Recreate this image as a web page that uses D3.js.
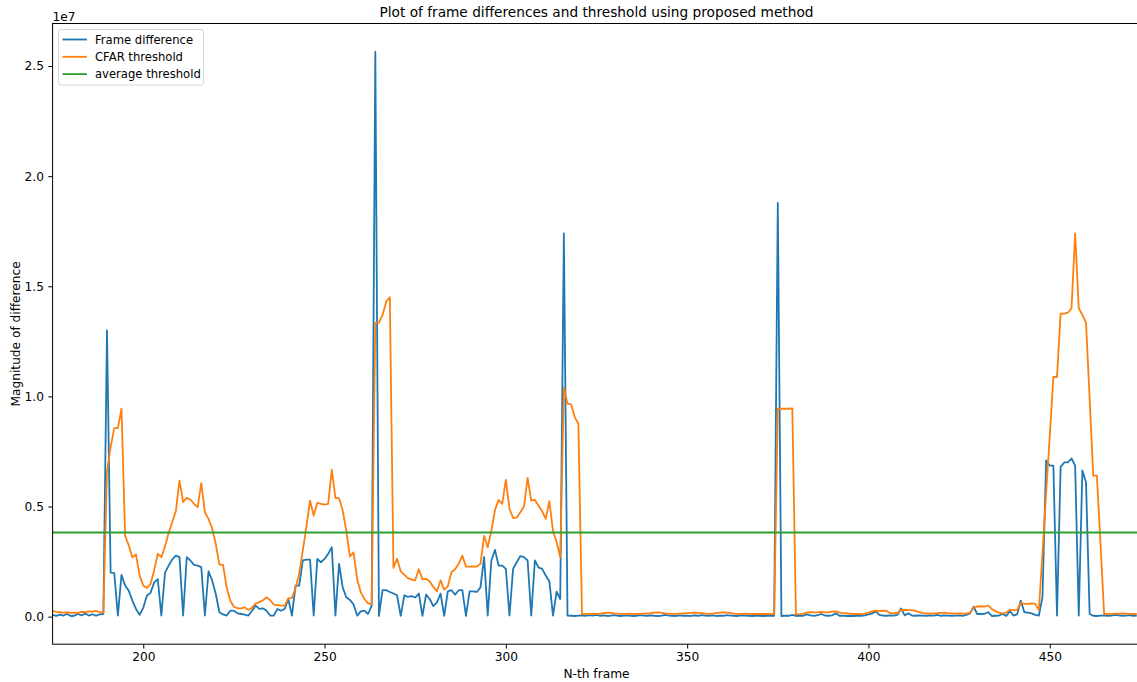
<!DOCTYPE html>
<html>
<head>
<meta charset="utf-8">
<script src="https://cdn.jsdelivr.net/npm/d3@7"></script>
<style>
  body { margin: 0; background: #fff; }
  text { font-family: "DejaVu Sans", sans-serif; fill: #000; }
</style>
</head>
<body>
<svg id="chart" width="1137" height="682"></svg>
<script>
// values are in units of 1e7, as shown on the axis
const firstFrame = 175;

// Frame difference, 10 frames per row starting at 175
const frameDiff = [
  0.008,0.004,0.009,0.005,0.012,0.003,0.004,0.012,0.006,0.014, // 175
  0.005,0.011,0.004,0.010,0.012,1.300,0.200,0.198,0.005,0.190, // 185
  0.141,0.118,0.073,0.035,0.008,0.040,0.095,0.108,0.155,0.170, // 195
  0.005,0.200,0.232,0.260,0.277,0.270,0.005,0.270,0.255,0.235, // 205
  0.232,0.225,0.005,0.206,0.164,0.103,0.020,0.010,0.005,0.027, // 215
  0.027,0.015,0.012,0.009,0.005,0.027,0.050,0.035,0.038,0.027, // 225
  0.005,0.005,0.035,0.027,0.035,0.080,0.005,0.141,0.141,0.255, // 235
  0.259,0.259,0.005,0.262,0.247,0.262,0.285,0.315,0.005,0.240, // 245
  0.133,0.088,0.076,0.055,0.005,0.024,0.027,0.012,0.050,2.565, // 255
  0.003,0.120,0.120,0.112,0.105,0.097,0.004,0.097,0.090,0.093, // 265
  0.087,0.105,0.004,0.100,0.080,0.048,0.065,0.105,0.004,0.115, // 275
  0.120,0.100,0.120,0.120,0.004,0.115,0.115,0.112,0.133,0.270, // 285
  0.005,0.255,0.303,0.232,0.232,0.217,0.005,0.217,0.247,0.275, // 295
  0.270,0.255,0.005,0.255,0.224,0.217,0.187,0.160,0.005,0.114, // 305
  0.080,1.740,0.005,0.004,0.003,0.005,0.006,0.004,0.007,0.005, // 315
  0.008,0.004,0.006,0.003,0.005,0.007,0.004,0.003,0.006,0.005, // 325
  0.003,0.004,0.007,0.005,0.004,0.006,0.004,0.003,0.005,0.008, // 335
  0.005,0.004,0.003,0.006,0.004,0.005,0.003,0.006,0.004,0.007, // 345
  0.005,0.004,0.006,0.003,0.005,0.004,0.007,0.005,0.004,0.003, // 355
  0.006,0.005,0.004,0.003,0.005,0.004,0.003,0.004,0.005,0.004, // 365
  1.879,0.003,0.005,0.004,0.008,0.003,0.005,0.004,0.010,0.006, // 375
  0.004,0.007,0.012,0.005,0.004,0.006,0.015,0.004,0.005,0.003, // 385
  0.004,0.003,0.005,0.004,0.006,0.010,0.015,0.024,0.008,0.005, // 395
  0.004,0.006,0.005,0.008,0.037,0.006,0.015,0.005,0.004,0.006, // 405
  0.005,0.004,0.006,0.005,0.008,0.004,0.006,0.005,0.004,0.005, // 415
  0.006,0.004,0.008,0.015,0.045,0.012,0.012,0.013,0.020,0.003, // 425
  0.004,0.005,0.012,0.003,0.025,0.005,0.010,0.073,0.020,0.018, // 435
  0.015,0.008,0.005,0.090,0.709,0.686,0.686,0.005,0.680,0.700, // 445
  0.700,0.718,0.686,0.005,0.664,0.610,0.012,0.004,0.003,0.005, // 455
  0.006,0.004,0.005,0.008,0.006,0.004,0.005,0.007,0.004,0.005  // 465
];

// CFAR threshold
const cfarThreshold = [
  0.025,0.022,0.020,0.018,0.020,0.017,0.018,0.017,0.022,0.020, // 175
  0.024,0.023,0.026,0.020,0.018,0.660,0.770,0.856,0.856,0.944, // 185
  0.368,0.323,0.270,0.282,0.186,0.141,0.130,0.148,0.210,0.285, // 195
  0.270,0.320,0.380,0.430,0.480,0.618,0.520,0.539,0.532,0.512, // 205
  0.497,0.606,0.474,0.444,0.400,0.330,0.236,0.235,0.133,0.072, // 215
  0.045,0.038,0.038,0.042,0.030,0.040,0.060,0.066,0.074,0.088, // 225
  0.075,0.055,0.052,0.050,0.050,0.083,0.085,0.130,0.195,0.300, // 235
  0.410,0.527,0.459,0.517,0.512,0.509,0.512,0.667,0.538,0.538, // 245
  0.482,0.390,0.273,0.292,0.170,0.110,0.080,0.060,0.057,1.335, // 255
  1.335,1.370,1.430,1.450,0.222,0.263,0.206,0.190,0.175,0.168, // 265
  0.165,0.215,0.169,0.172,0.160,0.135,0.115,0.165,0.123,0.138, // 275
  0.203,0.215,0.240,0.277,0.227,0.227,0.228,0.227,0.240,0.367, // 285
  0.315,0.390,0.484,0.530,0.512,0.621,0.490,0.448,0.450,0.474, // 295
  0.500,0.630,0.527,0.530,0.505,0.479,0.444,0.524,0.390,0.338, // 305
  0.270,1.042,0.967,0.964,0.906,0.876,0.012,0.013,0.013,0.014, // 315
  0.013,0.014,0.016,0.018,0.017,0.015,0.014,0.013,0.013,0.014, // 325
  0.013,0.012,0.013,0.014,0.015,0.016,0.018,0.019,0.017,0.015, // 335
  0.014,0.013,0.013,0.014,0.015,0.016,0.017,0.018,0.017,0.016, // 345
  0.014,0.013,0.014,0.016,0.018,0.019,0.018,0.016,0.014,0.013, // 355
  0.013,0.014,0.013,0.012,0.013,0.012,0.012,0.012,0.011,0.012, // 365
  0.944,0.944,0.944,0.944,0.946,0.010,0.011,0.014,0.018,0.020, // 375
  0.019,0.020,0.022,0.019,0.020,0.023,0.024,0.018,0.016,0.015, // 385
  0.014,0.012,0.012,0.011,0.014,0.018,0.024,0.027,0.026,0.027, // 395
  0.026,0.016,0.015,0.018,0.030,0.031,0.030,0.030,0.026,0.020, // 405
  0.016,0.015,0.014,0.015,0.016,0.017,0.018,0.016,0.015,0.014, // 415
  0.015,0.014,0.014,0.018,0.040,0.046,0.046,0.046,0.050,0.035, // 425
  0.025,0.018,0.015,0.018,0.032,0.030,0.031,0.062,0.058,0.058, // 435
  0.060,0.058,0.030,0.290,0.560,0.820,1.088,1.088,1.376,1.376, // 445
  1.380,1.400,1.740,1.400,1.370,1.335,0.990,0.640,0.640,0.330, // 455
  0.012,0.013,0.013,0.014,0.014,0.015,0.014,0.013,0.012,0.012  // 465
];

const averageThreshold = 0.382;

const xLimits = [175, 475];
const xTicks = [200, 250, 300, 350, 400, 450];
const yTicks = [0, 0.5, 1.0, 1.5, 2.0, 2.5];

const seriesNames = ["Frame difference", "CFAR threshold", "average threshold"];
const seriesColors = ["#1f77b4", "#ff7f0e", "#2ca02c"];

const margin = { top: 23.5, left: 52.6 };
const plotW = 1087.8, plotH = 620.7;

const svg = d3.select("#chart");
const g = svg.append("g").attr("transform", `translate(${margin.left},${margin.top})`);

const frames = frameDiff.map((d, i) => firstFrame + i);

// y limits like matplotlib autoscale: 5% margin
const allVals = frameDiff.concat(cfarThreshold, [averageThreshold]);
const yMin = d3.min(allVals), yMax = d3.max(allVals);
const pad = (yMax - yMin) * 0.05;

const x = d3.scaleLinear().domain(xLimits).range([0, plotW]);
const y = d3.scaleLinear().domain([yMin - pad, yMax + pad]).range([plotH, 0]);

g.append("clipPath").attr("id", "clip")
  .append("rect").attr("width", plotW).attr("height", plotH);

const lineGen = vals => d3.line()
  .x((d, i) => x(frames[i]))
  .y(d => y(d))(vals);

const plot = g.append("g").attr("clip-path", "url(#clip)");

plot.append("path")
  .attr("d", lineGen(frameDiff))
  .attr("fill", "none").attr("stroke", seriesColors[0])
  .attr("stroke-width", 1.8).attr("stroke-linejoin", "round");

plot.append("path")
  .attr("d", lineGen(cfarThreshold))
  .attr("fill", "none").attr("stroke", seriesColors[1])
  .attr("stroke-width", 1.8).attr("stroke-linejoin", "round");

plot.append("line")
  .attr("x1", 0).attr("x2", plotW)
  .attr("y1", y(averageThreshold)).attr("y2", y(averageThreshold))
  .attr("stroke", seriesColors[2]).attr("stroke-width", 1.8);

// axes
const xAxis = g.append("g").attr("transform", `translate(0,${plotH})`)
  .call(d3.axisBottom(x).tickValues(xTicks).tickSize(4.3).tickPadding(4.3).tickFormat(d3.format("d")));
const yAxis = g.append("g")
  .call(d3.axisLeft(y).tickValues(yTicks).tickSize(4.3).tickPadding(4.3).tickFormat(d3.format(".1f")));

[xAxis, yAxis].forEach(a => {
  a.selectAll("text").style("font-size", "12.2px").style("font-family", "DejaVu Sans");
  a.selectAll("line").attr("stroke", "#000").attr("stroke-width", 1);
  a.select(".domain").remove();
});

// spines (right one falls outside the picture)
g.append("rect")
  .attr("width", plotW).attr("height", plotH)
  .attr("fill", "none").attr("stroke", "#000").attr("stroke-width", 1);

// offset text
svg.append("text").attr("x", margin.left).attr("y", 20.5)
  .style("font-size", "12.2px").text("1e7");

svg.append("text").attr("x", margin.left + plotW / 2).attr("y", 17)
  .attr("text-anchor", "middle").style("font-size", "13.7px")
  .text("Plot of frame differences and threshold using proposed method");

svg.append("text").attr("x", margin.left + plotW / 2).attr("y", 678)
  .attr("text-anchor", "middle").style("font-size", "12.2px")
  .text("N-th frame");

svg.append("text")
  .attr("transform", `translate(19.5,${margin.top + plotH / 2}) rotate(-90)`)
  .attr("text-anchor", "middle").style("font-size", "12.2px")
  .text("Magnitude of difference");

// legend
const legend = svg.append("g").attr("transform", "translate(58.5,29.5)");
legend.append("rect")
  .attr("width", 145).attr("height", 55.5).attr("rx", 2.5)
  .attr("fill", "#fff").attr("fill-opacity", 0.8)
  .attr("stroke", "#d6d6d6").attr("stroke-width", 1);

seriesNames.forEach((name, i) => {
  const cy = 10 + i * 17.3;
  legend.append("line")
    .attr("x1", 4).attr("x2", 28.5).attr("y1", cy).attr("y2", cy)
    .attr("stroke", seriesColors[i]).attr("stroke-width", 1.8);
  legend.append("text")
    .attr("x", 36.5).attr("y", cy + 4.2)
    .style("font-size", "11.6px").text(name);
});
</script>
</body>
</html>
